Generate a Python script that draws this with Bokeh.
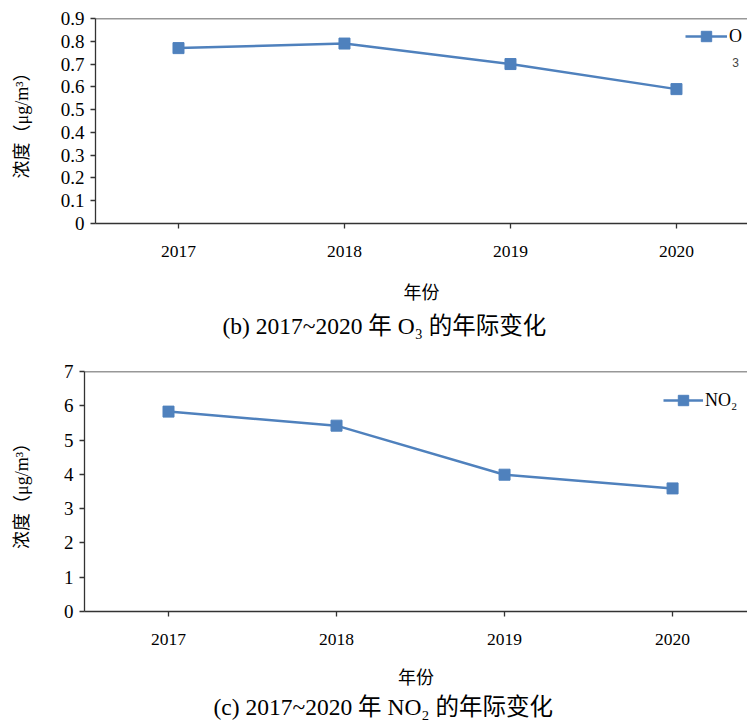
from bokeh.plotting import figure
from bokeh.layouts import column
from bokeh.models import (Range1d, FixedTicker, Label, Legend, LegendItem, Span, Title)
from bokeh.embed import file_html
from bokeh.resources import INLINE

# ---- data ----
years = [2017, 2018, 2019, 2020]
o3 = [0.77, 0.79, 0.70, 0.59]
no2 = [5.83, 5.42, 3.99, 3.59]

o3_yticks = [0, 0.1, 0.2, 0.3, 0.4, 0.5, 0.6, 0.7, 0.8, 0.9]
o3_ylabels = ["0", "0.1", "0.2", "0.3", "0.4", "0.5", "0.6", "0.7", "0.8", "0.9"]
no2_yticks = [0, 1, 2, 3, 4, 5, 6, 7]
no2_ylabels = ["0", "1", "2", "3", "4", "5", "6", "7"]
year_labels = ["2017", "2018", "2019", "2020"]

BLUE = "#4F81BD"
AXIS = "#333333"
FONT = "Liberation Serif, Noto Sans CJK SC"


def make_panel(values, yticks, ylabels, ymax, height, left, top, bottom, xend,
               legend_text, legend_loc, legend_glyph_w, caption, caption_offset,
               caption_standoff, xlabel_standoff, ylabel_standoff):
    p = figure(width=747, height=height, output_backend="svg", toolbar_location=None,
               x_range=Range1d(2016.5, xend), y_range=Range1d(0, ymax),
               min_border_left=left, min_border_right=0, min_border_top=top,
               min_border_bottom=bottom, outline_line_color=None, frame_align=False)
    p.xgrid.visible = False
    p.ygrid.visible = False

    for ax in (p.xaxis, p.yaxis):
        ax.axis_line_color = AXIS
        ax.axis_line_width = 1.3
        ax.major_tick_line_color = AXIS
        ax.major_tick_line_width = 1.3
        ax.major_tick_in = 0
        ax.major_tick_out = 5
        ax.minor_tick_line_color = None
        ax.major_label_text_font = FONT
        ax.major_label_text_color = "black"
        ax.axis_label_text_font = FONT
        ax.axis_label_text_font_size = "18px"
        ax.axis_label_text_font_style = "normal"
        ax.axis_label_text_color = "black"

    p.xaxis.ticker = FixedTicker(ticks=years)
    p.xaxis.major_label_overrides = dict(zip(years, year_labels))
    p.xaxis.major_label_text_font_size = "17.5px"
    p.xaxis.major_label_standoff = 17
    p.xaxis.axis_label = "年份"
    p.xaxis.axis_label_standoff = xlabel_standoff

    p.yaxis.ticker = FixedTicker(ticks=yticks)
    p.yaxis.major_label_overrides = dict(zip(yticks, ylabels))
    p.yaxis.major_label_text_font_size = "19px"
    p.yaxis.major_label_standoff = 6
    p.yaxis.axis_label = "浓度（μg/m³）"
    p.yaxis.axis_label_standoff = ylabel_standoff

    # top border of the plot frame
    p.add_layout(Span(location=ymax, dimension="width", line_color=AXIS, line_width=1.3))

    ln = p.line(years, values, line_color=BLUE, line_width=2.5)
    sq = p.scatter(years, values, marker="square", size=11, color=BLUE)

    legend = Legend(items=[LegendItem(label=legend_text, renderers=[ln, sq])],
                    location=legend_loc, glyph_width=legend_glyph_w, glyph_height=26,
                    label_standoff=2, padding=0, margin=0, spacing=0,
                    border_line_color=None, background_fill_alpha=0,
                    label_text_font=FONT, label_text_font_size="18px",
                    label_text_color="black")
    p.add_layout(legend)

    # panel caption
    p.add_layout(Title(text=caption, align="left", offset=caption_offset,
                       standoff=caption_standoff, text_font=FONT,
                       text_font_size="23.5px", text_font_style="normal",
                       text_color="black"), "below")
    return p


top = make_panel(o3, o3_yticks, o3_ylabels, 0.9, 356, 95, 18, 133, 2020.428,
                 "O", (590, 174), 42, "(b) 2017~2020 年 O₃ 的年际变化",
                 127, 11, 23, 26)
# wrapped subscript of the O3 legend entry
top.add_layout(Label(x=640, y=161, x_units="screen", y_units="screen", text="3",
                     text_font="Liberation Sans", text_font_size="12px",
                     text_align="center", text_baseline="middle"))

bottom = make_panel(no2, no2_yticks, no2_ylabels, 7, 368, 84, 15, 113, 2020.446,
                    "NO₂", (579, 198), 40, "(c) 2017~2020 年 NO₂ 的年际变化",
                    129, 2, 20, 29)

layout = column(top, bottom, spacing=0)
open("out.html", "w").write(file_html(layout, INLINE))
